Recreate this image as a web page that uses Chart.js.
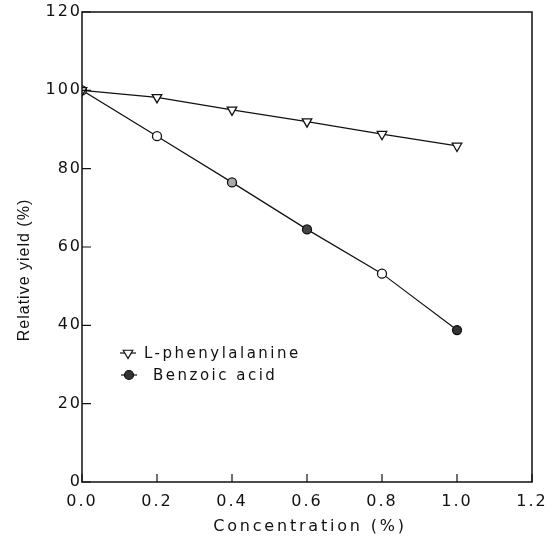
<!DOCTYPE html>
<html>
<head>
<meta charset="utf-8">
<script src="https://cdn.jsdelivr.net/npm/chart.js@4.4.1/dist/chart.umd.min.js"></script>
<style>
  html, body { margin: 0; padding: 0; background: #fff; }
  #wrap { width: 558px; height: 544px; }
</style>
</head>
<body>
<div id="wrap"><canvas id="chart" width="558" height="544"></canvas></div>
<script>
// data
const concentrations = [0.0, 0.2, 0.4, 0.6, 0.8, 1.0];
const pheYield = [100, 98.2, 95.0, 92.0, 88.8, 85.8];
const benzoicYield = [100, 88.3, 76.5, 64.5, 53.2, 38.8];
const xTickValues = [0, 0.2, 0.4, 0.6, 0.8, 1.0, 1.2];
const yTickValues = [0, 20, 40, 60, 80, 100, 120];
const seriesNames = ['L-phenylalanine', 'Benzoic acid'];
const xTitle = 'Concentration (%)';
const yTitle = 'Relative yield (%)';

const FONT = '"DejaVu Sans", "Liberation Sans", sans-serif';
const INK = '#111';
const TICK_SPACING = '2px';

const toPoints = (xs, ys) => xs.map((x, i) => ({ x, y: ys[i] }));

// box, inward ticks, axis titles and the legend inside the plot
const decorations = {
  id: 'decorations',
  beforeUpdate(chart) {
    chart.ctx.letterSpacing = TICK_SPACING;
  },
  beforeDraw(chart) {
    chart.ctx.letterSpacing = TICK_SPACING;
  },
  afterDraw(chart) {
    const { ctx, chartArea: a, scales } = chart;
    ctx.save();
    ctx.strokeStyle = INK;
    ctx.lineWidth = 1.5;
    ctx.strokeRect(a.left, a.top, a.right - a.left, a.bottom - a.top);

    ctx.lineWidth = 1.2;
    ctx.beginPath();
    xTickValues.forEach((v) => {
      const px = scales.x.getPixelForValue(v);
      ctx.moveTo(px, a.bottom);
      ctx.lineTo(px, a.bottom - 8);
    });
    yTickValues.forEach((v) => {
      const py = scales.y.getPixelForValue(v);
      ctx.moveTo(a.left, py);
      ctx.lineTo(a.left + 9, py);
    });
    ctx.stroke();

    // axis titles
    ctx.fillStyle = INK;
    ctx.font = '16px ' + FONT;
    ctx.letterSpacing = '2.8px';
    ctx.textAlign = 'center';
    ctx.textBaseline = 'middle';
    ctx.fillText(xTitle, (a.left + a.right) / 2 + 3, 527);
    ctx.save();
    ctx.translate(25, 270);
    ctx.rotate(-Math.PI / 2);
    ctx.font = '16px "Liberation Sans", Arial, sans-serif';
    ctx.letterSpacing = '1px';
    ctx.fillText(yTitle, 0, 0);
    ctx.restore();

    // legend
    const items = [
      { x: a.left + 46, y: 353, textX: a.left + 62 },
      { x: a.left + 47, y: 375, textX: a.left + 71 },
    ];
    ctx.font = '15px ' + FONT;
    ctx.letterSpacing = '2.5px';
    ctx.textAlign = 'left';
    chart.data.datasets.forEach((ds, i) => {
      const it = items[i];
      ctx.strokeStyle = INK;
      ctx.lineWidth = 1.2;
      ctx.beginPath();
      ctx.moveTo(it.x - 8, it.y);
      ctx.lineTo(it.x + 8, it.y);
      ctx.stroke();
      ctx.fillStyle = ds.legendFill;
      ctx.strokeStyle = INK;
      Chart.helpers.drawPoint(ctx, {
        pointStyle: ds.pointStyle,
        rotation: ds.pointRotation || 0,
        radius: ds.pointRadius,
        borderWidth: 1.3,
      }, it.x, it.y);
      ctx.fillStyle = INK;
      ctx.fillText(ds.label, it.textX, it.y + 1);
    });
    ctx.restore();
  },
};

new Chart(document.getElementById('chart'), {
  type: 'line',
  data: {
    datasets: [
      {
        label: seriesNames[0],
        data: toPoints(concentrations, pheYield),
        borderColor: INK,
        borderWidth: 1.2,
        pointStyle: 'triangle',
        pointRotation: 180,
        pointRadius: 5.5,
        pointBorderWidth: 1.3,
        pointBackgroundColor: '#fff',
        pointBorderColor: INK,
        legendFill: '#fff',
        tension: 0,
      },
      {
        label: seriesNames[1],
        data: toPoints(concentrations, benzoicYield),
        borderColor: INK,
        borderWidth: 1.2,
        pointStyle: 'circle',
        pointRadius: 4.5,
        pointBorderWidth: 1.3,
        pointBackgroundColor: ['#fff', '#fff', '#aaa', '#444', '#fff', '#333'],
        pointBorderColor: INK,
        legendFill: '#333',
        tension: 0,
      },
    ],
  },
  options: {
    responsive: false,
    animation: false,
    devicePixelRatio: 1,
    layout: { padding: { left: 0, top: 12, right: 26, bottom: 0 } },
    plugins: {
      legend: { display: false },
      tooltip: { enabled: false },
    },
    scales: {
      x: {
        type: 'linear',
        min: 0,
        max: 1.2,
        afterBuildTicks: (scale) => { scale.ticks = xTickValues.map(v => ({ value: v })); },
        afterFit: (scale) => { scale.height = 62; },
        grid: { display: false, drawTicks: false },
        border: { display: false },
        ticks: {
          color: INK,
          font: { family: FONT, size: 16 },
          padding: 10,
          maxRotation: 0,
          callback: (v) => Number(v).toFixed(1),
        },
      },
      y: {
        min: 0,
        max: 120,
        afterBuildTicks: (scale) => { scale.ticks = yTickValues.map(v => ({ value: v })); },
        afterFit: (scale) => { scale.width = 82; },
        grid: { display: false, drawTicks: false },
        border: { display: false },
        ticks: {
          color: INK,
          font: { family: FONT, size: 16 },
          padding: 0,
        },
      },
    },
  },
  plugins: [decorations],
});
</script>
</body>
</html>
